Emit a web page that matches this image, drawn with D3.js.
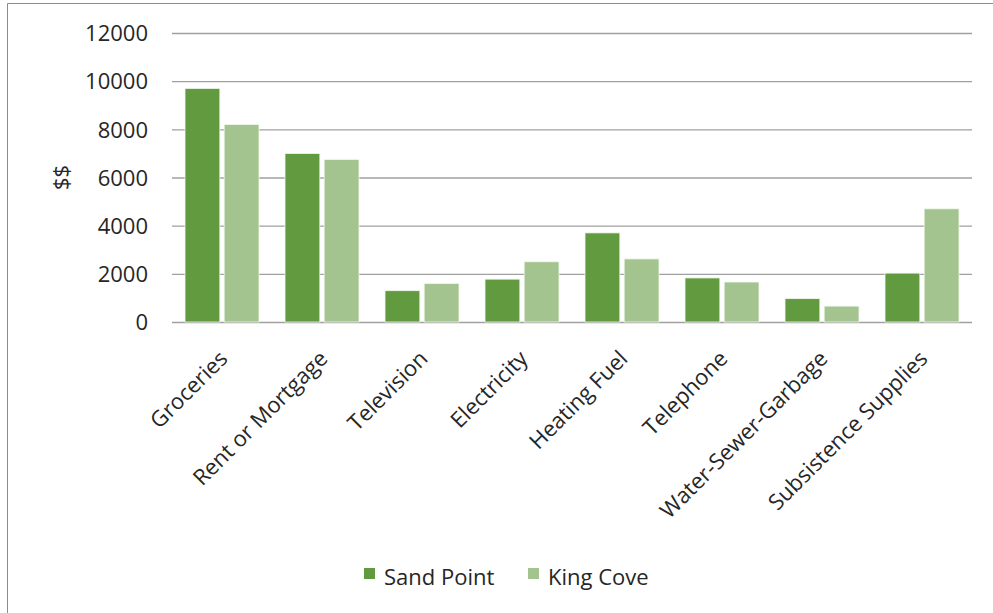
<!DOCTYPE html>
<html>
<head>
<meta charset="utf-8">
<script src="https://cdn.jsdelivr.net/npm/d3@7"></script>
<style>
  html, body { margin: 0; padding: 0; background: #fff; }
  svg { display: block; }
  text { font-family: "Open Sans", "Noto Sans", sans-serif; fill: #262626; }
</style>
</head>
<body>
<svg id="chart" width="993" height="613"></svg>
<script>
// Household expenses by category, two communities
const categories = ["Groceries", "Rent or Mortgage", "Television", "Electricity",
  "Heating Fuel", "Telephone", "Water-Sewer-Garbage", "Subsistence Supplies"];
const seriesNames = ["Sand Point", "King Cove"];
const sandPoint = [9700, 7000, 1300, 1780, 3700, 1830, 970, 2030];
const kingCove = [8200, 6750, 1600, 2500, 2620, 1660, 660, 4700];
const yTicks = [0, 2000, 4000, 6000, 8000, 10000, 12000];
const colors = ["#629a3f", "#a3c48f"];

const svg = d3.select("#chart");
const W = 993, H = 613;
const plot = { left: 172, right: 972, top: 33, bottom: 322 };
const FS = 22;

// outer frame
svg.append("path")
  .attr("d", `M7.5,${H} V3.5 H${W}`)
  .attr("fill", "none").attr("stroke", "#8c8c8c").attr("stroke-width", 1);

const x0 = d3.scaleBand().domain(categories).range([plot.left, plot.right]).paddingInner(0.26).paddingOuter(0.13);
const x1 = d3.scaleBand().domain(seriesNames).range([0, x0.bandwidth()]).paddingInner(0.11);
const y = d3.scaleLinear().domain([0, 12000]).range([plot.bottom, plot.top]);

// gridlines and y labels
const yAxis = d3.axisLeft(y).tickValues(yTicks).tickSize(-(plot.right - plot.left)).tickPadding(24).tickFormat(d3.format("d"));
const gy = svg.append("g").attr("transform", `translate(${plot.left},0)`).call(yAxis);
gy.select(".domain").remove();
gy.selectAll(".tick line").attr("stroke", "#a0a0a0").attr("stroke-width", 1.4);
gy.selectAll(".tick text").attr("font-size", FS).attr("fill", "#262626").attr("dy", "0.35em")
  .attr("font-family", "\"Open Sans\", sans-serif");

// y axis title
svg.append("text")
  .attr("transform", `translate(69,${(plot.top + plot.bottom) / 2}) rotate(-90)`)
  .attr("text-anchor", "middle").attr("font-size", FS).text("$$");

// bars
const rows = categories.map((c, i) => ({ cat: c, vals: [sandPoint[i], kingCove[i]] }));
const groups = svg.append("g").selectAll("g").data(rows).join("g")
  .attr("transform", d => `translate(${x0(d.cat)},0)`);
groups.selectAll("rect").data(d => d.vals.map((v, j) => ({ v, s: seriesNames[j], j })))
  .join("rect")
  .attr("x", d => x1(d.s))
  .attr("width", x1.bandwidth())
  .attr("y", d => y(d.v))
  .attr("height", d => y(0) - y(d.v))
  .attr("fill", d => colors[d.j])
  .attr("stroke", "#f2f7ee").attr("stroke-width", 0.8);

// category labels, rotated
svg.append("g").selectAll("text").data(categories).join("text")
  .attr("transform", d => `translate(${x0(d) + x0.bandwidth() / 2 + 7},${plot.bottom + 38}) rotate(-45)`)
  .attr("text-anchor", "end")
  .attr("font-size", FS).text(d => d);

// legend
const legend = svg.append("g");
const legendX = [364, 528];
seriesNames.forEach((s, j) => {
  legend.append("rect").attr("x", legendX[j]).attr("y", 568).attr("width", 11).attr("height", 11).attr("fill", colors[j]);
  legend.append("text").attr("x", legendX[j] + 20).attr("y", 585).attr("font-size", FS).text(s);
});
</script>
</body>
</html>
